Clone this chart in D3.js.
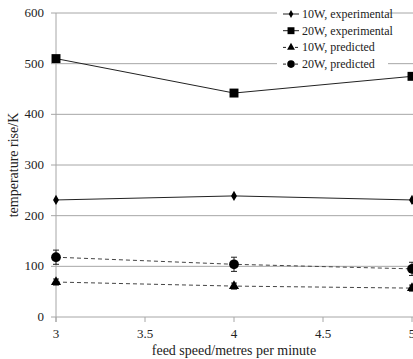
<!DOCTYPE html>
<head>
 <script src="https://cdn.jsdelivr.net/npm/d3@7"></script>
 <title>temperature rise</title>
</head>
<style>
body{ margin: 0; background-color: white; }
text{ font-family: "Liberation Serif", "DejaVu Serif", serif; font-size: 13px; fill: #222; }
</style>
<body>
 <div id="chart"></div>
</body>
<script type="text/javascript">
 var speeds = [3, 4, 5];
 var exp10W = [231, 239, 231];
 var exp20W = [510, 442, 475];
 var pred10W = [69, 61, 57];
 var pred20W = [118, 104, 95];
 var err10W = [6, 6, 6];
 var err20W = [14, 14, 13];
 var xTicks = [3, 3.5, 4, 4.5, 5];
 var yTicks = [0, 100, 200, 300, 400, 500, 600];

 var props = { width: 413, height: 359, left: 56, right: 412, top: 13, bottom: 317 };

 var svg = d3.select("#chart").append("svg").attr("width", props.width).attr("height", props.height);
 var x = d3.scaleLinear().domain([3, 5]).range([props.left, props.right]);
 var y = d3.scaleLinear().domain([0, 600]).range([props.bottom, props.top]);

 // gridlines
 svg.append("g").selectAll("line").data(yTicks).enter().append("line")
   .attr("x1", props.left - 5).attr("x2", props.width)
   .attr("y1", function(d){ return y(d); }).attr("y2", function(d){ return y(d); })
   .attr("stroke", "#a6a6a6").attr("stroke-width", 1);

 svg.append("line").attr("x1", props.left).attr("x2", props.left)
   .attr("y1", props.top).attr("y2", props.bottom + 5)
   .attr("stroke", "#a6a6a6");

 svg.append("g").selectAll("line").data(xTicks).enter().append("line")
   .attr("x1", function(d){ return x(d); }).attr("x2", function(d){ return x(d); })
   .attr("y1", props.bottom).attr("y2", props.bottom + 5)
   .attr("stroke", "#a6a6a6");

 svg.append("g").selectAll("text").data(yTicks).enter().append("text")
   .attr("x", props.left - 12).attr("y", function(d){ return y(d) + 4; })
   .attr("text-anchor", "end").text(function(d){ return d; });

 svg.append("g").selectAll("text").data(xTicks).enter().append("text")
   .attr("x", function(d){ return x(d); }).attr("y", props.bottom + 21)
   .attr("text-anchor", "middle").text(function(d){ return d; });

 svg.append("text").attr("x", 234).attr("y", 355).attr("text-anchor", "middle")
   .style("font-size", "14px").text("feed speed/metres per minute");
 svg.append("text").attr("transform", "translate(18,165) rotate(-90)").attr("text-anchor", "middle")
   .style("font-size", "14px").text("temperature rise/K");

 var series = [
   { name: "10W, experimental", vals: exp10W, sym: d3.symbolDiamond, size: 30, dash: null, err: null },
   { name: "20W, experimental", vals: exp20W, sym: d3.symbolSquare, size: 80, dash: null, err: null },
   { name: "10W, predicted", vals: pred10W, sym: d3.symbolTriangle, size: 45, dash: "4,3", err: err10W },
   { name: "20W, predicted", vals: pred20W, sym: d3.symbolCircle, size: 75, dash: "4,3", err: err20W }
 ];

 var line = d3.line().x(function(d){ return x(d[0]); }).y(function(d){ return y(d[1]); });

 series.forEach(function(s){
   var pts = speeds.map(function(v, i){ return [v, s.vals[i]]; });
   svg.append("path").attr("d", line(pts)).attr("fill", "none")
     .attr("stroke", s.dash ? "#444" : "#222").attr("stroke-width", 1)
     .attr("stroke-dasharray", s.dash);
   if(s.err){
     pts.forEach(function(p, i){
       var g = svg.append("g").attr("stroke", "#222");
       g.append("line").attr("x1", x(p[0])).attr("x2", x(p[0]))
         .attr("y1", y(p[1] - s.err[i])).attr("y2", y(p[1] + s.err[i]));
       [p[1] - s.err[i], p[1] + s.err[i]].forEach(function(e){
         g.append("line").attr("x1", x(p[0]) - 3).attr("x2", x(p[0]) + 3)
           .attr("y1", y(e)).attr("y2", y(e));
       });
     });
   }
   svg.append("g").selectAll("path").data(pts).enter().append("path")
     .attr("d", d3.symbol().type(s.sym).size(s.size))
     .attr("transform", function(d){ return "translate(" + x(d[0]) + "," + y(d[1]) + ")"; })
     .attr("fill", "#000");
 });

 // legend
 var legend = svg.append("g");
 legend.append("rect").attr("x", 277).attr("y", 4).attr("width", 111).attr("height", 68).attr("fill", "white");
 series.forEach(function(s, i){
   var ly = 14 + i * 16.7;
   legend.append("line").attr("x1", 283).attr("x2", 299).attr("y1", ly).attr("y2", ly)
     .attr("stroke", "#222").attr("stroke-dasharray", s.dash ? "3,3" : null);
   legend.append("path").attr("d", d3.symbol().type(s.sym).size(s.size * 0.6))
     .attr("transform", "translate(291," + ly + ")").attr("fill", "#000");
   legend.append("text").attr("x", 302).attr("y", ly + 4).style("font-size", "12px").text(s.name);
 });
</script>
